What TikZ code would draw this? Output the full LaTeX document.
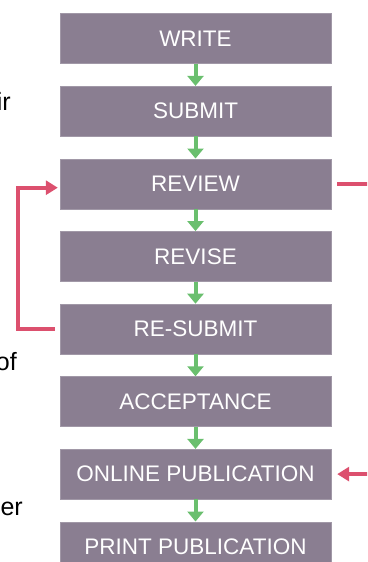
\documentclass[tikz,border=0pt]{standalone}
\usepackage{fontspec}
\setmainfont{Liberation Sans}
\usetikzlibrary{shapes, arrows.meta, positioning}
\definecolor{stepfill}{HTML}{8A7E91}
\definecolor{flowgreen}{HTML}{6ABF6E}
\definecolor{loopred}{HTML}{DC506E}
\tikzstyle{block}=[draw=stepfill!80!white,fill=stepfill,rectangle,minimum width=271pt,minimum height=50pt,inner sep=0pt,text=white,font=\fontsize{22.5}{22.5}\selectfont]
\tikzstyle{flow}=[draw=flowgreen,line width=4pt,-{Triangle[width=16pt,length=10pt]}]
\tikzstyle{back}=[draw=loopred,line width=4pt]
\tikzstyle{side}=[font=\fontsize{25}{25}\selectfont,anchor=base east,inner sep=0pt]

\begin{document}
\begin{tikzpicture}[x=1pt,y=1pt,>={Triangle[width=14pt,length=12pt]},node distance=72.6pt]
    \useasboundingbox (0,0) rectangle (367,-562);
    \clip (0,0) rectangle (367,-562);
    \node[block] (write) at (195.5,-38.5) {WRITE};
    \node[block, below of=write] (submit) {SUBMIT};
    \node[block, below of=submit] (review) {REVIEW};
    \node[block, below of=review] (revise) {REVISE};
    \node[block, below of=revise] (resubmit) {RE-SUBMIT};
    \node[block, below of=resubmit] (accept) {ACCEPTANCE};
    \node[block, below of=accept] (online) {ONLINE PUBLICATION};
    \node[block, below of=online] (print) {PRINT PUBLICATION};
    \node[side] (ir) at (11,-110) {ir};
    \node[side] (of) at (17,-370) {of};
    \node[side] (er) at (23,-515) {er};
    \coordinate[right of=review, node distance=176pt] (revout);
    \coordinate[right of=online, node distance=176pt] (onlin);
    \draw[flow] (write) -- (submit);
    \draw[flow] (submit) -- (review);
    \draw[flow] (review) -- (revise);
    \draw[flow] (revise) -- (resubmit);
    \draw[flow] (resubmit) -- (accept);
    \draw[flow] (accept) -- (online);
    \draw[flow] (online) -- (print);
    \draw[back,->,shorten <=5pt,shorten >=2pt] (resubmit.west) -- ++(-42,0) |- ([yshift=-4pt]review.west);
    \draw[back,shorten <=6pt] (review.east) -- (revout);
    \draw[back,->,shorten >=6pt] (onlin) -- (online.east);
  \end{tikzpicture}
\end{document}
